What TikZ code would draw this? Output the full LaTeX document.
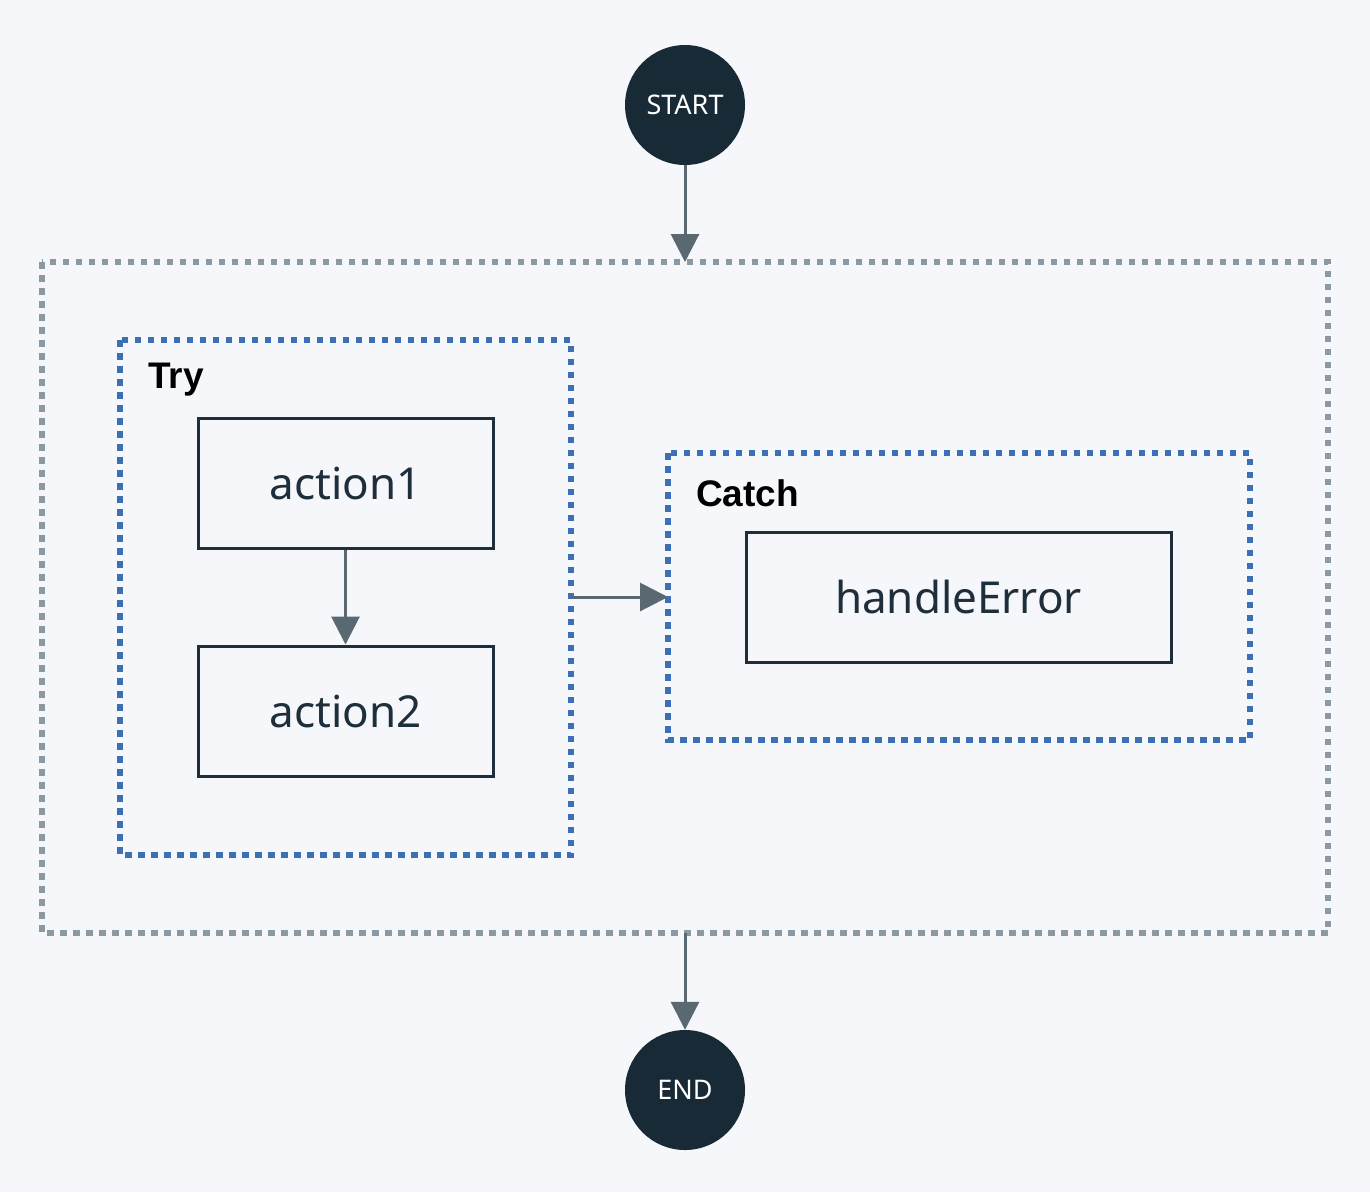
\documentclass[tikz,border=0pt]{standalone}
\usepackage{fontspec}
\setmainfont{Noto Sans}
\newfontfamily\labfont{Liberation Sans}
\usetikzlibrary{arrows.meta}
\definecolor{bgc}{HTML}{F5F7FA}
\definecolor{dark}{HTML}{172A35}
\definecolor{boxline}{HTML}{1E2E3A}
\definecolor{arr}{HTML}{5A6872}
\definecolor{grp}{HTML}{8A99A3}
\definecolor{blu}{HTML}{3D6FB5}
\tikzset{
  x=1pt,y=-1pt,
  term/.style={circle,fill=dark,minimum size=120pt,inner sep=0pt,text=white,font=\fontsize{27}{30}\selectfont},
  actbox/.style={draw=boxline,line width=3pt,fill=bgc,minimum width=295pt,minimum height=130pt,inner sep=0pt,text=boxline,font=\fontsize{44}{50}\selectfont},
  outergrp/.style={draw=grp,line width=5.5pt,dash pattern=on 6.5pt off 6.5pt},
  bluegrp/.style={draw=blu,line width=5.5pt,dash pattern=on 6.5pt off 6.5pt},
  grplabel/.style={anchor=west,inner sep=0pt,font=\labfont\bfseries\fontsize{37}{42}\selectfont,text=black},
  flow/.style={draw=arr,line width=3pt,-{Triangle[length=28pt,width=28pt]}}
}
\begin{document}
\begin{tikzpicture}
\fill[bgc] (0,0) rectangle (1370,1192);
\useasboundingbox (0,0) rectangle (1370,1192);
% groups
\draw[outergrp] (42,262) rectangle (1328,933);
\coordinate (outerTop) at (685,262);
\coordinate (outerBot) at (685,933);
\draw[bluegrp] (120,340) rectangle (571,855);
\coordinate (tryRight) at (571,597);
\draw[bluegrp] (668,453) rectangle (1250,740);
\coordinate (catchLeft) at (668,597);
\node[grplabel] (trylab) at (148,380) {Try};
\node[grplabel] (catchlab) at (696,493) {Catch};
% nodes
\node[term] (start) at (685,105) {START};
\node[term] (end) at (685,1090) {END};
\node[actbox] (a1) at (345.5,483) {action1};
\node[actbox] (a2) at (345.5,711) {action2};
\node[actbox,minimum width=425pt] (he) at (958.5,597) {handleError};
% connectors
\draw[flow] (start) -- (outerTop);
\draw[flow] (a1) -- (a2);
\draw[flow] (tryRight) -- (catchLeft);
\draw[flow] (outerBot) -- (end);
\end{tikzpicture}
\end{document}
